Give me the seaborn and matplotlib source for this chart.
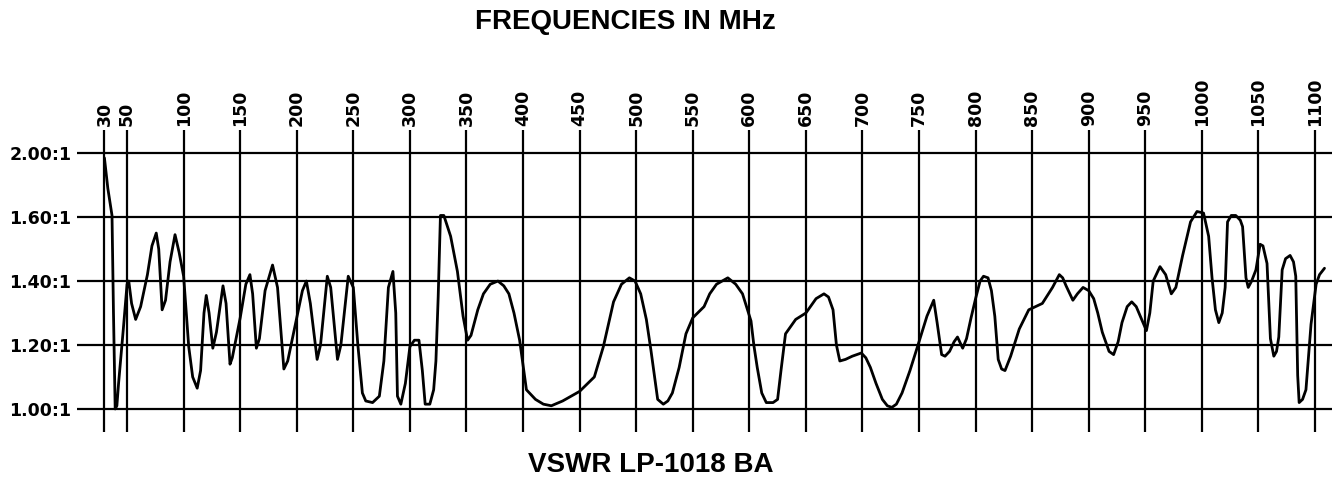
#!/usr/bin/env python3

from matplotlib import pyplot as plt
import numpy as np
import seaborn as sns

# Values

freq_mhz = [
    30, 33, 36.7, 38, 39.5, 41, 42.5, 46.7, 50, 51.5, 54, 57.6, 62, 68, 72,
    75.8, 78, 81, 84, 88, 92.4, 96, 100, 104.5, 108, 112, 115, 118, 120,
    122.5, 125.8, 129, 134.8, 137.5, 141, 143, 150, 155, 158.6, 161, 164.3,
    167, 172, 178.6, 183, 188.6, 192, 200, 205, 208.5, 212, 218, 221, 227,
    230, 236, 239, 245.5, 250, 254, 258, 261, 267, 273, 277, 281, 285, 287.5,
    289, 292, 296, 300, 304, 308, 311, 313.5, 317.6, 321, 323, 325, 327, 330,
    336, 342, 347, 351, 354, 360, 365, 371, 377.8, 383, 387.5, 392, 397, 403,
    411, 418, 425, 435, 450, 463, 471, 480, 487, 494, 499, 504, 509, 513, 519,
    524, 528, 532, 538, 544, 550, 560, 565, 571, 581, 588, 594, 601.5, 604,
    607, 611, 615, 621, 625, 628, 632, 641, 650, 659, 666, 670, 674, 677, 680,
    685, 691, 699, 703, 707, 712, 717.6, 722, 726, 730, 735, 742, 750, 757,
    763, 766, 770, 773, 777, 781, 784, 788.6, 792, 796, 800, 804, 807, 811,
    814, 817, 820, 823, 826, 831, 838.6, 847, 859, 868, 874, 877, 880, 886,
    890, 895, 900, 904.4, 908, 912, 918, 922, 926, 929.4, 934, 938, 942,
    945.6, 951, 954, 957, 963, 968, 973, 977, 983, 990, 995.7, 1001.5, 1006,
    1009, 1012, 1015, 1018, 1020.6, 1022.7, 1026, 1030, 1034, 1036, 1039,
    1041, 1044, 1047.8, 1051.5, 1054, 1057.6, 1060.6, 1063.6, 1066, 1068,
    1071, 1074, 1078, 1081, 1083, 1084.7, 1086, 1089, 1092, 1096.5, 1101,
    1104, 1108.4,
]
vswr = [
    1.97, 1.78, 1.61, 1.30, 1.00, 1.01, 1.08, 1.25, 1.39, 1.40, 1.33, 1.28,
    1.32, 1.42, 1.51, 1.55, 1.50, 1.31, 1.34, 1.46, 1.545, 1.49, 1.415, 1.195,
    1.10, 1.065, 1.12, 1.30, 1.355, 1.30, 1.19, 1.24, 1.385, 1.33, 1.14, 1.16,
    1.285, 1.39, 1.42, 1.36, 1.19, 1.22, 1.37, 1.45, 1.38, 1.125, 1.15, 1.285,
    1.37, 1.40, 1.33, 1.155, 1.20, 1.415, 1.38, 1.155, 1.20, 1.415, 1.38, 1.20,
    1.05, 1.025, 1.02, 1.04, 1.15, 1.38, 1.43, 1.30, 1.04, 1.015, 1.08, 1.195,
    1.215, 1.215, 1.12, 1.015, 1.015, 1.06, 1.15, 1.35, 1.61, 1.61, 1.54,
    1.43, 1.29, 1.215, 1.23, 1.31, 1.36, 1.39, 1.40, 1.385, 1.36, 1.30, 1.215,
    1.06, 1.03, 1.015, 1.01, 1.025, 1.055, 1.10, 1.195, 1.335, 1.39, 1.41,
    1.40, 1.36, 1.28, 1.185, 1.03, 1.015, 1.025, 1.05, 1.13, 1.235, 1.285,
    1.32, 1.36, 1.39, 1.41, 1.39, 1.36, 1.275, 1.20, 1.13, 1.05, 1.02, 1.02,
    1.03, 1.12, 1.235, 1.28, 1.30, 1.345, 1.36, 1.35, 1.31, 1.20, 1.15, 1.155,
    1.165, 1.175, 1.16, 1.13, 1.08, 1.03, 1.01, 1.005, 1.015, 1.05, 1.12,
    1.21, 1.29, 1.34, 1.27, 1.17, 1.165, 1.18, 1.21, 1.225, 1.19, 1.22, 1.285,
    1.345, 1.40, 1.415, 1.41, 1.37, 1.29, 1.155, 1.125, 1.12, 1.165, 1.25,
    1.31, 1.33, 1.38, 1.42, 1.41, 1.385, 1.34, 1.36, 1.38, 1.37, 1.345, 1.30,
    1.24, 1.18, 1.17, 1.21, 1.27, 1.32, 1.335, 1.32, 1.29, 1.245, 1.30, 1.40,
    1.445, 1.42, 1.36, 1.38, 1.48, 1.585, 1.635, 1.625, 1.54, 1.41, 1.31,
    1.27, 1.30, 1.38, 1.585, 1.61, 1.61, 1.59, 1.57, 1.41, 1.38, 1.40, 1.435,
    1.515, 1.51, 1.455, 1.22, 1.165, 1.18, 1.225, 1.435, 1.47, 1.48, 1.46,
    1.415, 1.105, 1.02, 1.03, 1.06, 1.265, 1.39, 1.42, 1.44,
]

freq_ticks = [30, 50, 100, 150, 200, 250, 300, 350, 400, 450, 500, 550, 600,
              650, 700, 750, 800, 850, 900, 950, 1000, 1050, 1100]
vswr_ticks = [1.00, 1.20, 1.40, 1.60, 2.00]
vswr_labels = ["1.00:1", "1.20:1", "1.40:1", "1.60:1", "2.00:1"]

title_top = "FREQUENCIES IN MHz"
title_bottom = "VSWR LP-1018 BA"


# The sheet spaces the VSWR lines evenly, so use a piecewise-linear scale

knots_v = [0.0, 1.0, 1.2, 1.4, 1.6, 2.0, 3.0]
knots_u = [-5.0, 0.0, 1.0, 2.0, 3.0, 4.0, 6.5]


def fwd(v):
    return np.interp(v, knots_v, knots_u)


def inv(u):
    return np.interp(u, knots_u, knots_v)


def main():
    sns.set_style("white")
    plt.rcParams["font.family"] = ["DejaVu Sans"]
    plt.rcParams["text.color"] = "black"
    plt.rcParams["xtick.color"] = "black"
    plt.rcParams["ytick.color"] = "black"

    fig = plt.figure(figsize=(13.4, 4.8), dpi=100)
    ax = fig.add_axes([0.0575, 0.10, 0.9365, 0.629])

    sns.lineplot(
            x=freq_mhz, y=vswr, sort=False, color="black", lw=2.0,
            estimator=None, ax=ax,
            )

    ax.set_yscale("function", functions=(fwd, inv))
    ax.set_xlim(5.8, 1115)
    ax.set_ylim(inv(-0.36), inv(4.36))

    ax.xaxis.tick_top()
    ax.set_xticks(freq_ticks)
    ax.set_xticklabels([str(f) for f in freq_ticks], rotation=90,
                       fontsize=12.5, fontweight="bold")
    ax.set_yticks(vswr_ticks)
    ax.set_yticklabels(vswr_labels, fontsize=12.5, fontweight="bold")
    ax.yaxis.set_minor_locator(plt.NullLocator())
    ax.tick_params(axis="both", length=0, labelcolor="black")
    ax.tick_params(axis="x", pad=3)
    ax.tick_params(axis="y", pad=4)

    ax.grid(True, color="black", lw=1.6)
    ax.set_axisbelow(True)
    for s in ax.spines.values():
        s.set_visible(False)
    ax.set_xlabel("")
    ax.set_ylabel("")

    fig.text(0.467, 0.954, title_top, ha="center", va="center",
             fontsize=20, fontweight="bold", color="black",
             family=["Liberation Sans", "DejaVu Sans"])
    fig.text(0.486, 0.031, title_bottom, ha="center", va="center",
             fontsize=20, fontweight="bold", color="black",
             family=["Liberation Sans Narrow", "Liberation Sans"])

    fig.savefig("out.png", dpi=100)


if __name__ == "__main__":
    main()
